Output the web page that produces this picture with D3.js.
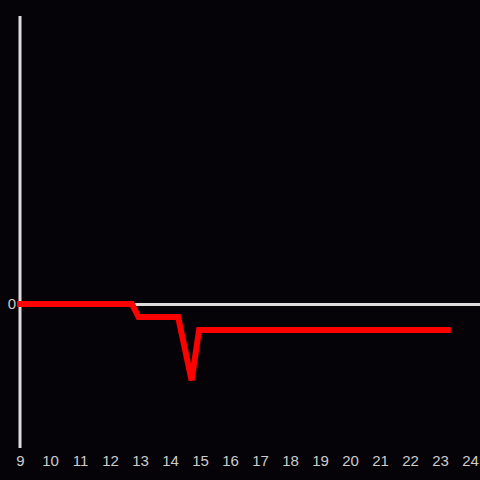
<!DOCTYPE html>
<html><head><meta charset="utf-8">
<script src="https://cdn.jsdelivr.net/npm/d3@7"></script>
<style>html,body{margin:0;padding:0;background:#050307;}svg{display:block;}</style>
</head><body>
<script>
const hours = [9, 12.73, 12.95, 14.27, 14.72, 14.97, 23.26];
const values = [0, 0, -0.09, -0.09, -0.53, -0.18, -0.18];
const xTicks = [9,10,11,12,13,14,15,16,17,18,19,20,21,22,23,24];
const yTicks = [0];

const W = 480, H = 480;
const svg = d3.select("body").append("svg").attr("width", W).attr("height", H)
  .style("background", "#050307");
const x = d3.scaleLinear().domain([9, 24]).range([20, 470]);
const y = d3.scaleLinear().domain([-1, 2]).range([448, 16]);

// zero line
svg.append("line").attr("x1", x(9)).attr("x2", W).attr("y1", y(0)+0.5).attr("y2", y(0)+0.5)
  .attr("stroke", "#dddddd").attr("stroke-width", 3);
// y axis line
svg.append("line").attr("x1", x(9)).attr("x2", x(9)).attr("y1", 16).attr("y2", 448)
  .attr("stroke", "#dddddd").attr("stroke-width", 3);

const xAxis = d3.axisBottom(x).tickValues(xTicks).tickSize(0).tickPadding(0).tickFormat(d3.format("d"));
const gx = svg.append("g").attr("transform", "translate(0,448)").call(xAxis);
gx.select(".domain").remove();
gx.selectAll("text").attr("fill", "#cccccc").attr("dy", "18px")
  .style("font-family", "'Liberation Sans', Arial, sans-serif").style("font-size", "15px");

const yAxis = d3.axisLeft(y).tickValues(yTicks).tickSize(0).tickPadding(4).tickFormat(d3.format("d"));
const gy = svg.append("g").attr("transform", "translate(20,0)").call(yAxis);
gy.select(".domain").remove();
gy.selectAll("text").attr("fill", "#cccccc")
  .style("font-family", "'Liberation Sans', Arial, sans-serif").style("font-size", "15px");

const data = hours.map((h, i) => ({h, v: values[i]}));
svg.append("path").datum(data)
  .attr("d", d3.line().x(d => x(d.h)).y(d => y(d.v)))
  .attr("fill", "none").attr("stroke", "#ff0000").attr("stroke-width", 6)
  .attr("stroke-linejoin", "miter").attr("stroke-linecap", "square");
</script>
</body></html>
